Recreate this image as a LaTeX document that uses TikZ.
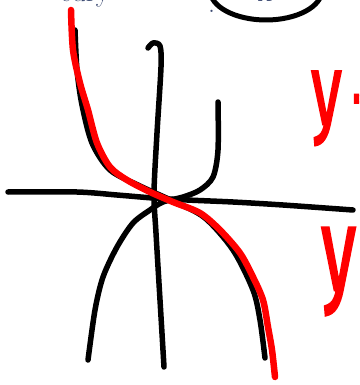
\documentclass[tikz,border=0pt]{standalone}
\usepackage{fontspec}
\setsansfont{Fira Sans}[FakeBold=2.5]
\begin{document}
\begin{tikzpicture}[x=1pt,y=-1pt,
  blk/.style={line width=5.5pt,black,line cap=round,line join=round},
  redc/.style={line width=6.5pt,red,line cap=round,line join=round},
  hand/.style={text=red,inner sep=0pt,anchor=base west},
  toptext/.style={text={rgb,255:red,60;green,75;blue,115},font=\fontsize{28}{28}\selectfont,inner sep=0pt,anchor=base west}]
\useasboundingbox (0,0) rectangle (359,385);
\clip (0,0) rectangle (359,385);
\fill[white] (0,0) rectangle (359,385);
% top clipped text
\node[toptext] (t1) at (60,1.5) {cury -};
\node[toptext] (t2) at (208,13) {.};
\node[toptext] (t3) at (258,1.5) {x};
\draw[line width=5pt] (266,-10) ellipse [x radius=56, y radius=30];
% axes
\draw[blk] plot[smooth] coordinates {(8,192) (77,192) (117,195) (153,198) (187,200) (233,202) (283,205) (353,210)};
\draw[blk] plot[smooth] coordinates {(148,48) (153,43) (160,46) (161,67) (157,133) (154,193) (156,233) (160,300) (164,367)};
% black y = x^3
\draw[blk] plot[smooth] coordinates {(218,102) (218,150) (213,177) (200,190) (183,197) (163,202) (150,210) (133,223) (117,247) (103,277) (95,310) (88,360)};
% black y = -x^3
\draw[blk] plot[smooth] coordinates {(75,30) (77,70) (82,105) (92,143) (110,170) (140,186) (175,202) (205,218) (233,250) (253,290) (260,320) (265,358)};
% red curve
\draw[redc] plot[smooth] coordinates {(71,10) (73,50) (80,83) (88,110) (97,143) (110,167) (127,180) (150,192) (173,202) (200,213) (220,230) (240,253) (253,277) (263,300) (268,327) (272,350) (275,377)};
% red labels
\node[hand,font=\sffamily\fontsize{100}{100}\selectfont] (ya) at (311,124) {\scalebox{0.62}[1]{y}};
\node[hand,font=\sffamily\fontsize{100}{100}\selectfont] (eq) at (349,130) {-};
\node[hand,font=\sffamily\fontsize{118}{118}\selectfont] (yb) at (321,290) {\scalebox{0.6}[1]{y}};
\end{tikzpicture}
\end{document}
